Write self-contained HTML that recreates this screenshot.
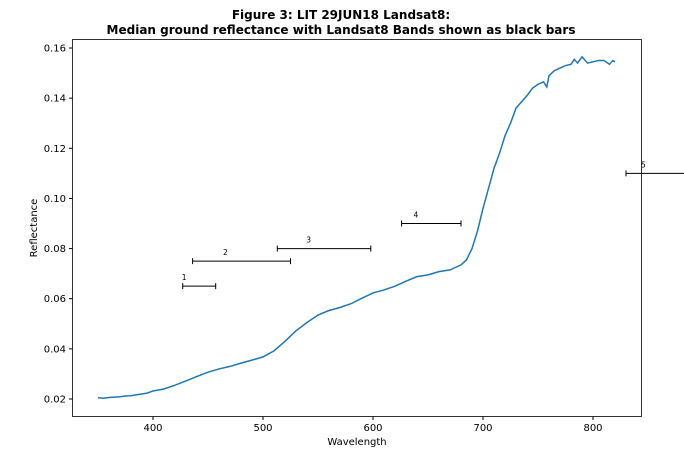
<!DOCTYPE html>
<html><head><meta charset="utf-8"><style>
body{margin:0;background:#fff;font-family:"DejaVu Sans",sans-serif}
svg text{font-family:"DejaVu Sans",sans-serif}
</style></head><body>
<svg id="chart" width="684" height="468" xmlns="http://www.w3.org/2000/svg">
<text x="341" y="19" text-anchor="middle" font-size="12" font-weight="bold">Figure 3: LIT 29JUN18  Landsat8:</text>
<text x="341" y="34" text-anchor="middle" font-size="12" font-weight="bold">Median ground reflectance with Landsat8 Bands shown as black bars</text>
<g id="plot"></g>
<text x="357" y="445" text-anchor="middle" font-size="10">Wavelength</text>
<text transform="translate(37,228) rotate(-90)" text-anchor="middle" font-size="10">Reflectance</text>
</svg>
<script>
const wavelengths=[350,355,360,370,375,380,385,390,395,400,410,420,430,440,450,460,470,480,490,500,510,520,530,540,550,560,570,580,590,600,610,620,630,640,650,660,670,680,685,690,695,700,705,710,715,720,725,730,740,745,750,755,758,760,765,770,775,780,783,786,790,795,800,805,810,815,818,820];
const reflectance=[.0205,.0203,.0206,.0209,.0212,.0213,.0217,.022,.0224,.0232,.024,.0255,.0272,.029,.0307,.032,.033,.0343,.0355,.0368,.0392,.043,.0472,.0505,.0535,.0553,.0565,.058,.0602,.0623,.0635,.065,.067,.0688,.0695,.0708,.0715,.0735,.0755,.08,.087,.096,.104,.112,.118,.125,.13,.136,.141,.144,.1455,.1465,.1445,.149,.151,.152,.153,.1535,.1555,.154,.1565,.154,.1545,.155,.155,.1535,.155,.1545];
const bandLabels=["1","2","3","4","5"];
const bandStart=[427,436,513,626,830];
const bandEnd=[457,525,598,680,1385];
const bandLevel=[.065,.075,.080,.090,.110];
const xTicks=[400,500,600,700,800];
const yTicks=[.02,.04,.06,.08,.10,.12,.14,.16];
const L=72,R=641,T=39,B=416;
const X=v=>153+(v-400)*1.1;
const Y=v=>399-(v-0.02)*2507;
const ns="http://www.w3.org/2000/svg";
const g=document.getElementById('plot');
function mk(t,a){const e=document.createElementNS(ns,t);for(const k in a)e.setAttribute(k,a[k]);g.appendChild(e);return e;}
let fr=mk('rect',{x:L+.5,y:T+.5,width:R-L,height:B-T,fill:'none',stroke:'#000','stroke-width':0.8});


xTicks.forEach(t=>{
 const x=X(t);
 const l=mk('line',{x1:x,x2:x,y1:B+.5,y2:B+4,stroke:'#000'});
 
 
 const s=mk('text',{x:x,y:B+15,'text-anchor':'middle','font-size':10});s.textContent=t;
 
 
});
yTicks.forEach(t=>{
 const y=Y(t);
 const l=mk('line',{x1:L-3,x2:L+.5,y1:y,y2:y,stroke:'#000'});
 
 
 const s=mk('text',{x:L-6,y:y+3.5,'text-anchor':'end','font-size':10});s.textContent=t.toFixed(2);
 
 
});
const p=mk('polyline',{points:wavelengths.map((w,i)=>X(w)+','+Y(reflectance[i])).join(' '),fill:'none',stroke:'#1f77b4','stroke-width':1.5});


bandLabels.forEach((b,i)=>{
 const x1=X(bandStart[i]),x2=X(bandEnd[i]),y=Y(bandLevel[i]);
 const l=mk('path',{d:`M${x1},${y}H${x2}M${x1},${y-3}V${y+3}M${x2},${y-3}V${y+3}`,stroke:'#000','stroke-width':1,fill:'none'});
 
 
 const off=b==='5'?15:(b==='1'?-1:(b==='4'?(x2-x1)*0.2:(x2-x1)*0.31));
 const s=mk('text',{x:x1+off,y:y-6,'font-size':7.5});s.textContent=b;
 
 
});
</script>
</body></html>
